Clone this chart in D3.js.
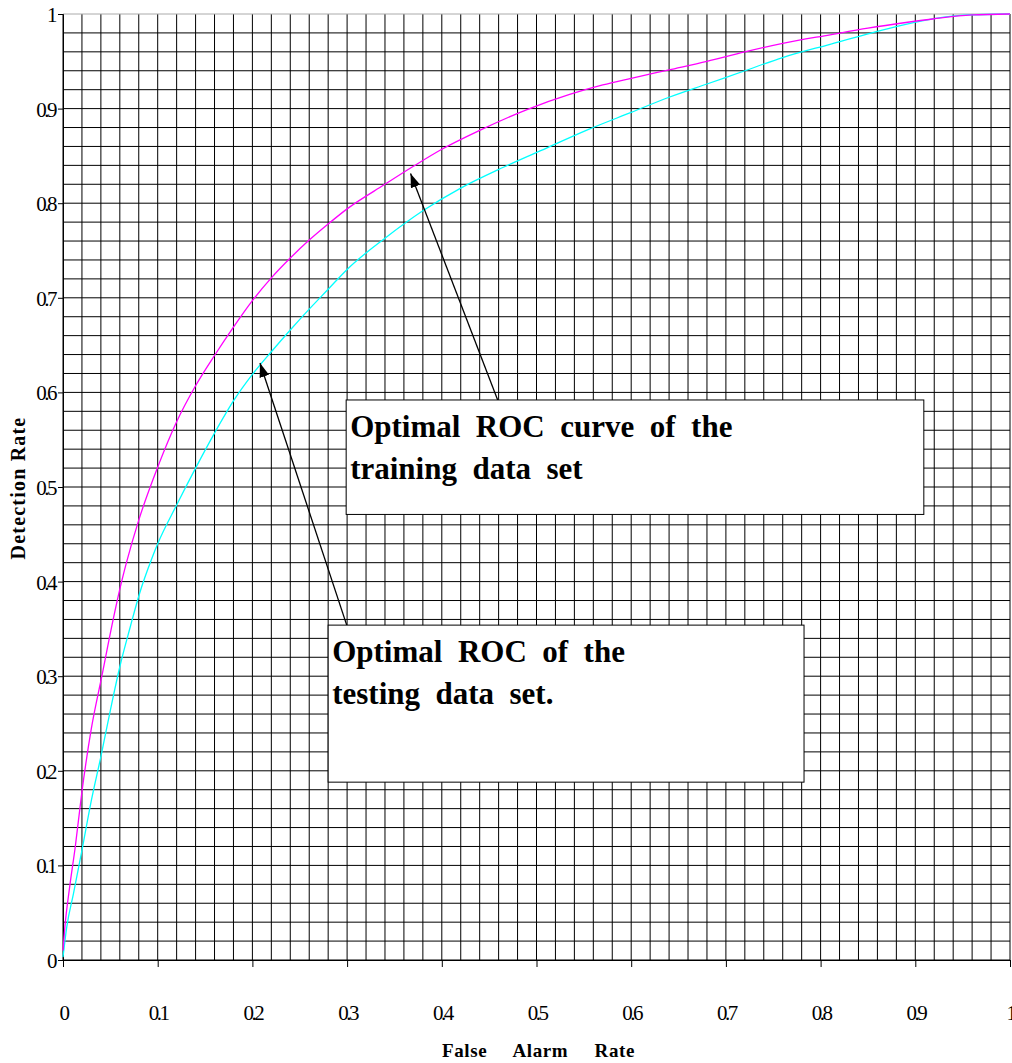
<!DOCTYPE html>
<html>
<head>
<meta charset="utf-8">
<script src="https://cdn.jsdelivr.net/npm/d3@7"></script>
<style>
  body { margin: 0; background: #fff; }
  svg { display: block; font-family: "Liberation Serif", "Times New Roman", serif; }
</style>
</head>
<body>
<svg id="chart" width="1012" height="1063"></svg>
<script>
// ROC curves: [false alarm rate, detection rate]
const trainingRoc = [
  [0, 0.01], [0.002, 0.035], [0.007, 0.077], [0.013, 0.12], [0.02, 0.178],
  [0.03, 0.245], [0.041, 0.30], [0.053, 0.36], [0.06, 0.392], [0.067, 0.42],
  [0.08, 0.465], [0.10, 0.521], [0.12, 0.569], [0.14, 0.607], [0.16, 0.639],
  [0.18, 0.669], [0.20, 0.697], [0.22, 0.721], [0.24, 0.742], [0.26, 0.761],
  [0.28, 0.778], [0.30, 0.794], [0.34, 0.82], [0.37, 0.839], [0.40, 0.857],
  [0.44, 0.877], [0.49, 0.899], [0.535, 0.915], [0.57, 0.925], [0.60, 0.932],
  [0.64, 0.941], [0.68, 0.950], [0.72, 0.960], [0.76, 0.969], [0.81, 0.978],
  [0.85, 0.985], [0.89, 0.991], [0.92, 0.995], [0.96, 0.999], [1, 1]
];

const testingRoc = [
  [0, 0.003], [0.004, 0.035], [0.011, 0.07], [0.02, 0.116], [0.03, 0.169],
  [0.04, 0.215], [0.05, 0.264], [0.06, 0.31], [0.071, 0.352], [0.081, 0.388],
  [0.094, 0.425], [0.10, 0.44], [0.12, 0.481], [0.14, 0.52], [0.16, 0.557],
  [0.18, 0.591], [0.20, 0.619], [0.22, 0.643], [0.24, 0.666], [0.26, 0.688],
  [0.28, 0.709], [0.30, 0.73], [0.34, 0.763], [0.38, 0.792], [0.42, 0.816],
  [0.465, 0.838], [0.51, 0.858], [0.555, 0.878], [0.60, 0.896], [0.64, 0.912],
  [0.68, 0.926], [0.72, 0.94], [0.76, 0.954], [0.81, 0.968], [0.85, 0.979],
  [0.89, 0.989], [0.92, 0.995], [0.955, 0.999], [1, 1]
];

const xTicks = [0, 0.1, 0.2, 0.3, 0.4, 0.5, 0.6, 0.7, 0.8, 0.9, 1];
const yTicks = [0, 0.1, 0.2, 0.3, 0.4, 0.5, 0.6, 0.7, 0.8, 0.9, 1];
const tickLabels = ["0", "0.1", "0.2", "0.3", "0.4", "0.5", "0.6", "0.7", "0.8", "0.9", "1"];

// Annotation boxes (data units) with their arrow tips on the curves
const notes = [
  { lines: ["Optimal  ROC  curve  of  the", "training  data  set"],
    x0: 0.299, x1: 0.909, y0: 0.592, y1: 0.471,
    from: [0.459, 0.592], tip: [0.367, 0.8315] },
  { lines: ["Optimal  ROC  of  the", "testing  data  set."],
    x0: 0.28, x1: 0.7825, y0: 0.354, y1: 0.188,
    from: [0.2996, 0.354], tip: [0.208, 0.631] }
];

const margin = { top: 14, right: 2, bottom: 103, left: 63 };
const svg = d3.select("#chart");
const width = +svg.attr("width") - margin.left - margin.right;
const height = +svg.attr("height") - margin.top - margin.bottom;

const x = d3.scaleLinear().domain([0, 1]).range([margin.left, margin.left + width]);
const y = d3.scaleLinear().domain([0, 1]).range([margin.top + height, margin.top]);

// Fine grid, every 0.02
const gridSteps = d3.range(0, 51).map((i) => i / 50);
const grid = svg.append("g").attr("stroke", "#000").attr("stroke-width", 1);
grid.selectAll("line.v")
  .data(gridSteps)
  .join("line")
  .attr("class", "v")
  .attr("x1", (d) => x(d)).attr("x2", (d) => x(d))
  .attr("y1", y(0)).attr("y2", y(1));
grid.selectAll("line.h")
  .data(gridSteps)
  .join("line")
  .attr("class", "h")
  .attr("y1", (d) => y(d)).attr("y2", (d) => y(d))
  .attr("x1", x(0)).attr("x2", x(1))
  .attr("stroke", (d) => (d === 1 ? "#aaa" : "#000"));

// Axes
const xAxis = d3.axisBottom(x)
  .tickValues(xTicks)
  .tickSize(7)
  .tickPadding(38)
  .tickFormat((d, i) => tickLabels[i]);
const yAxis = d3.axisLeft(y)
  .tickValues(yTicks)
  .tickSize(5)
  .tickPadding(3)
  .tickFormat((d, i) => tickLabels[i]);

const gx = svg.append("g").attr("transform", `translate(0,${y(0)})`).call(xAxis);
const gy = svg.append("g").attr("transform", `translate(${x(0)},0)`).call(yAxis);

[gx, gy].forEach((g) => {
  g.select(".domain").attr("stroke", "#000");
  g.selectAll(".tick line").attr("stroke", "#000");
  g.selectAll(".tick text")
    .attr("fill", "#000")
    .attr("font-family", "Liberation Serif")
    .attr("font-size", "21px")
    .attr("letter-spacing", "-2.5px");
});
gy.selectAll(".tick text").attr("dy", "0.36em");

// Curves
const line = d3.line()
  .curve(d3.curveMonotoneX)
  .x((d) => x(d[0]))
  .y((d) => y(d[1]));

svg.append("path")
  .datum(testingRoc)
  .attr("fill", "none")
  .attr("stroke", "#00ffff")
  .attr("stroke-width", 1.3)
  .attr("d", line);

svg.append("path")
  .datum(trainingRoc)
  .attr("fill", "none")
  .attr("stroke", "#ff00ff")
  .attr("stroke-width", 1.3)
  .attr("d", line);

// Arrow marker
svg.append("defs").append("marker")
  .attr("id", "arrowhead")
  .attr("viewBox", "0 -5 14 10")
  .attr("refX", 14)
  .attr("refY", 0)
  .attr("orient", "auto")
  .attr("markerUnits", "userSpaceOnUse")
  .attr("markerWidth", 14)
  .attr("markerHeight", 10)
  .append("path")
  .attr("d", "M 0,-5 L 14,0 L 0,5 Z")
  .attr("fill", "#000");

// Annotations
const note = svg.append("g")
  .selectAll("g")
  .data(notes)
  .join("g");

note.append("line")
  .attr("x1", (d) => x(d.from[0]))
  .attr("y1", (d) => y(d.from[1]))
  .attr("x2", (d) => x(d.tip[0]))
  .attr("y2", (d) => y(d.tip[1]))
  .attr("stroke", "#000")
  .attr("stroke-width", 1.3)
  .attr("marker-end", "url(#arrowhead)");

note.append("rect")
  .attr("x", (d) => x(d.x0))
  .attr("y", (d) => y(d.y0))
  .attr("width", (d) => x(d.x1) - x(d.x0))
  .attr("height", (d) => y(d.y1) - y(d.y0))
  .attr("fill", "#fff")
  .attr("stroke", "#000")
  .attr("stroke-width", 1);

note.each(function (d) {
  const g = d3.select(this);
  d.lines.forEach((t, i) => {
    g.append("text")
      .attr("x", x(d.x0) + 4)
      .attr("y", y(d.y0) + 37 + i * 42)
      .attr("font-size", "31px")
      .attr("font-weight", "bold")
      .attr("fill", "#000")
      .style("white-space", "pre")
      .text(t);
  });
});

// Axis titles
svg.append("text")
  .attr("x", x(0.5) + 2)
  .attr("y", 1057)
  .attr("text-anchor", "middle")
  .attr("font-size", "19px")
  .attr("font-weight", "bold")
  .attr("letter-spacing", "0.6px")
  .attr("word-spacing", "21px")
  .text("False Alarm Rate");

svg.append("text")
  .attr("transform", `translate(25,${y(0.5) + 1}) rotate(-90)`)
  .attr("text-anchor", "middle")
  .attr("font-size", "20px")
  .attr("font-weight", "bold")
  .attr("letter-spacing", "1.2px")
  .text("Detection Rate");
</script>
</body>
</html>
